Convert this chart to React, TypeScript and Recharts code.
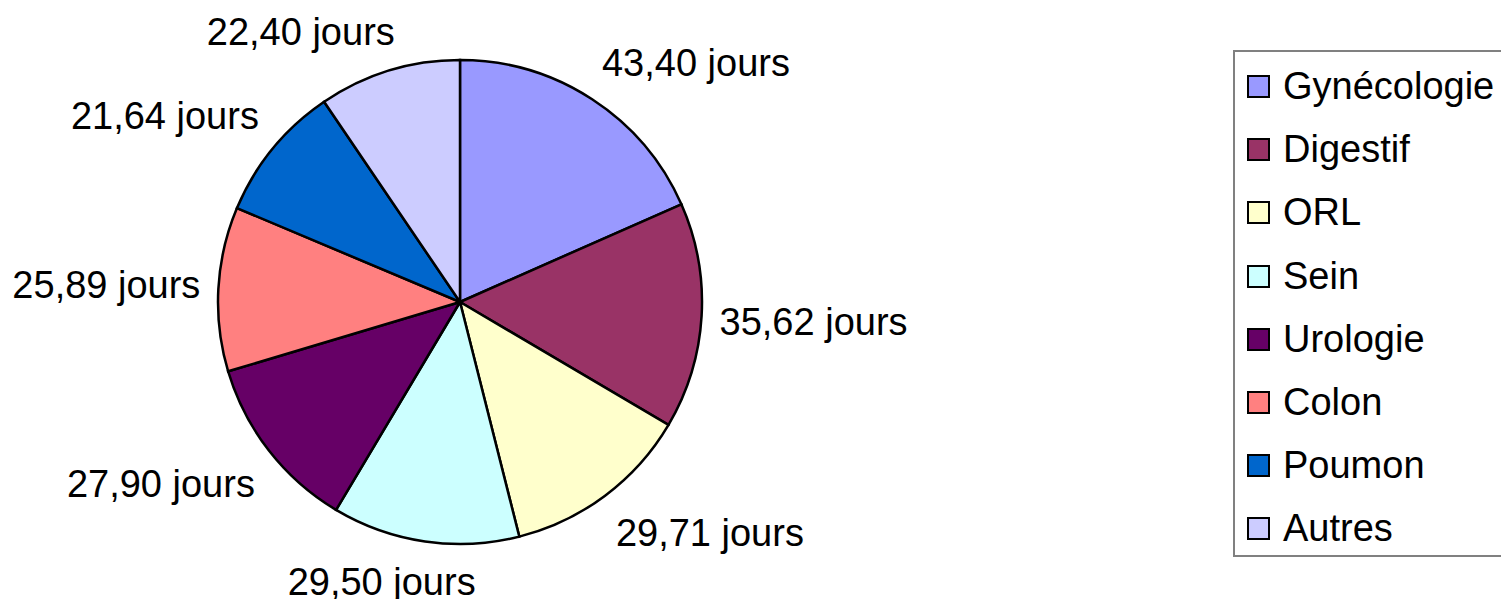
import React from "react";
import { PieChart, Pie, Cell, Legend } from "recharts";

// Délai moyen (jours) par spécialité
const CATEGORIES = [
  "Gynécologie",
  "Digestif",
  "ORL",
  "Sein",
  "Urologie",
  "Colon",
  "Poumon",
  "Autres",
];
const DAYS = [43.4, 35.62, 29.71, 29.5, 27.9, 25.89, 21.64, 22.4];
const COLORS = [
  "#9999FF",
  "#993366",
  "#FFFFCC",
  "#CCFFFF",
  "#660066",
  "#FF8080",
  "#0066CC",
  "#CCCCFF",
];

const FONT = "'Liberation Sans', Arial, sans-serif";
const FONT_SIZE = 38;
const RAD = Math.PI / 180;

const data = CATEGORIES.map((name, i) => ({ name, value: DAYS[i] }));

const fmt = (v: number) => `${v.toFixed(2).replace(".", ",")} jours`;

let ctx: CanvasRenderingContext2D | null = null;
function textWidth(s: string) {
  if (!ctx) ctx = document.createElement("canvas").getContext("2d");
  if (!ctx) return s.length * FONT_SIZE * 0.5;
  ctx.font = `${FONT_SIZE}px ${FONT}`;
  return ctx.measureText(s).width;
}

const clamp = (v: number) => Math.max(-1, Math.min(1, v));

// outside label, box pushed away from the slice depending on its angle
function renderLabel(props: any) {
  const { cx, cy, midAngle, outerRadius, value } = props;
  const dx = Math.cos(-midAngle * RAD);
  const dy = Math.sin(-midAngle * RAD);
  const r = outerRadius + 18;
  const px = cx + r * dx;
  const py = cy + r * dy;
  const text = fmt(value);
  const w = textWidth(text);
  const h = 44;
  const x = px + (w / 2) * clamp(3 * dx);
  const y = py + (h / 2) * clamp(3 * dy);
  return (
    <text
      x={x}
      y={y + FONT_SIZE * 0.36}
      textAnchor="middle"
      fill="#000"
      fontSize={FONT_SIZE}
      fontFamily={FONT}
    >
      {text}
    </text>
  );
}

function LegendBox() {
  return (
    <div
      style={{
        boxSizing: "border-box",
        width: "100%",
        height: "100%",
        border: "2px solid #808080",
        borderRight: "none",
        background: "#fff",
        paddingTop: 3,
      }}
    >
      {CATEGORIES.map((name, i) => (
        <div
          key={name}
          style={{
            height: 63.2,
            display: "flex",
            alignItems: "center",
            paddingLeft: 12,
            fontFamily: FONT,
            fontSize: FONT_SIZE,
            color: "#000",
            whiteSpace: "nowrap",
          }}
        >
          <span
            style={{
              display: "inline-block",
              boxSizing: "border-box",
              width: 23,
              height: 23,
              border: "2.5px solid #000",
              background: COLORS[i],
              marginRight: 13,
            }}
          />
          {name}
        </div>
      ))}
    </div>
  );
}

export default function App() {
  return (
    <div
      style={{
        position: "absolute",
        left: 0,
        top: 0,
        width: 1501,
        height: 599,
        background: "#fff",
        overflow: "hidden",
      }}
    >
      <PieChart
        width={1501}
        height={599}
        margin={{ top: 0, right: 0, bottom: 0, left: 0 }}
      >
        <Pie
          data={data}
          dataKey="value"
          nameKey="name"
          cx={460}
          cy={302}
          outerRadius={242}
          startAngle={90}
          endAngle={-270}
          stroke="#000"
          strokeWidth={2.5}
          label={renderLabel}
          labelLine={false}
          isAnimationActive={false}
        >
          {data.map((d, i) => (
            <Cell key={d.name} fill={COLORS[i]} />
          ))}
        </Pie>
        <Legend
          content={<LegendBox />}
          wrapperStyle={{
            position: "absolute",
            left: 1233,
            top: 50,
            width: 280,
            height: 507,
          }}
        />
      </PieChart>
    </div>
  );
}
